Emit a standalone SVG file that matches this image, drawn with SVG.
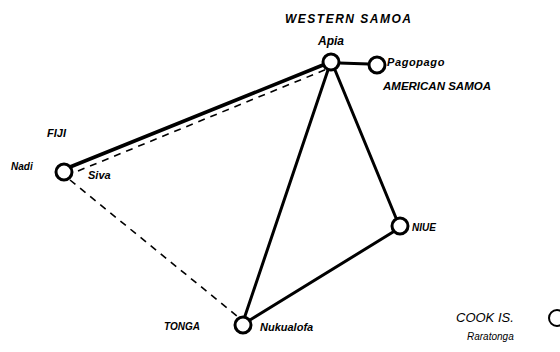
<svg xmlns="http://www.w3.org/2000/svg" width="560" height="352" viewBox="0 0 560 352">
<style>
.n{fill:#fff;stroke:#000;stroke-width:3}
.s{stroke:#000;stroke-width:3;fill:none;stroke-linecap:round}
.d{stroke:#000;stroke-width:1.6;fill:none;stroke-dasharray:7 6}
text{font-family:"Liberation Sans",Arial,sans-serif;font-style:italic;font-weight:bold;fill:#000}
.c{font-weight:normal;font-style:italic}
</style>
<rect width="560" height="352" fill="#fff"/>
<g id="connectors">
<line class="s" x1="70" y1="167" x2="323" y2="65" style="stroke-width:3.6"/>
<line class="d" x1="78" y1="171" x2="327" y2="69"/>
<line class="d" x1="70" y1="180" x2="237" y2="316"/>
<line class="s" x1="328" y1="70" x2="245" y2="316"/>
<line class="s" x1="335" y1="70" x2="396" y2="218"/>
<line class="s" x1="393" y1="232" x2="250" y2="320"/>
<line class="s" x1="339" y1="63" x2="369" y2="64"/>
</g>
<g id="apia">
<circle class="n" cx="331" cy="62" r="8"/>
<text x="285" y="23" font-size="12" letter-spacing="1.5">WESTERN  SAMOA</text>
<text x="318" y="45" font-size="12">Apia</text>
</g>
<g id="pagopago">
<circle class="n" cx="377" cy="65" r="8"/>
<text x="387" y="66" font-size="11" letter-spacing="0.6">Pagopago</text>
<text x="383" y="90" font-size="11.5">AMERICAN  SAMOA</text>
</g>
<g id="fiji">
<circle class="n" cx="64" cy="172" r="8"/>
<text x="47" y="137" font-size="11">FIJI</text>
<text x="11" y="170" font-size="10">Nadi</text>
<text x="88" y="179" font-size="11">Siva</text>
</g>
<g id="niue">
<circle class="n" cx="400" cy="226" r="8"/>
<text x="412" y="231" font-size="10">NIUE</text>
</g>
<g id="tonga">
<circle class="n" cx="243" cy="325" r="8"/>
<text x="164" y="330" font-size="10">TONGA</text>
<text x="260" y="331" font-size="11">Nukualofa</text>
</g>
<g id="cook">
<circle cx="557" cy="318" r="8" fill="#fff" stroke="#000" stroke-width="2"/>
<text class="c" x="456" y="322" font-size="13">COOK  IS.</text>
<text class="c" x="467" y="340" font-size="10">Raratonga</text>
</g>
</svg>
